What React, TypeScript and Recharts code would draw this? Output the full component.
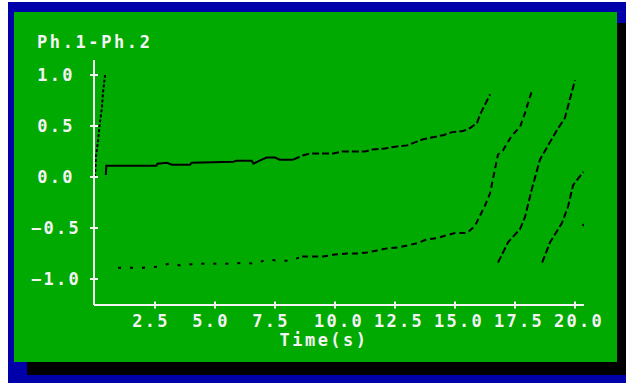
import { LineChart, Line, XAxis, YAxis } from "recharts";

type Pt = { t: number; v: number };

const xTicks = [2.5, 5, 7.5, 10, 12.5, 15, 17.5, 20];
const yTicks = [-1, -0.5, 0, 0.5, 1];

// first sweep of the phase difference right after t = 0
const startRise: Pt[] = [
  { t: 0, v: 0 }, { t: 0.04, v: 0.2 }, { t: 0.13, v: 0.36 }, { t: 0.2, v: 0.53 },
  { t: 0.29, v: 0.68 }, { t: 0.33, v: 0.82 }, { t: 0.42, v: 1.0 },
];

// upper branch, continuous part
const upperEarly: Pt[] = [
  { t: 0.45, v: 0.02 }, { t: 0.47, v: 0.11 }, { t: 2.56, v: 0.11 }, { t: 2.6, v: 0.13 },
  { t: 3.0, v: 0.14 }, { t: 3.2, v: 0.12 }, { t: 3.96, v: 0.12 }, { t: 4.03, v: 0.14 },
  { t: 5.76, v: 0.15 }, { t: 5.9, v: 0.16 }, { t: 6.53, v: 0.16 }, { t: 6.6, v: 0.13 },
  { t: 6.95, v: 0.17 }, { t: 7.15, v: 0.19 }, { t: 7.5, v: 0.19 }, { t: 7.7, v: 0.17 },
  { t: 8.26, v: 0.17 },
];

// upper branch, sampled part up to the first wrap
const upperLate: Pt[] = [
  { t: 8.26, v: 0.17 }, { t: 8.63, v: 0.21 }, { t: 8.96, v: 0.23 }, { t: 9.92, v: 0.23 },
  { t: 10.29, v: 0.25 }, { t: 11.25, v: 0.25 }, { t: 11.58, v: 0.27 }, { t: 12.08, v: 0.28 },
  { t: 12.58, v: 0.3 }, { t: 13.0, v: 0.31 }, { t: 13.33, v: 0.34 }, { t: 13.67, v: 0.37 },
  { t: 14.08, v: 0.39 }, { t: 14.5, v: 0.41 }, { t: 14.88, v: 0.44 }, { t: 15.33, v: 0.45 },
  { t: 15.63, v: 0.48 }, { t: 15.92, v: 0.53 }, { t: 16.04, v: 0.61 }, { t: 16.46, v: 0.81 },
];

// lower branch, sparse dots
const lowerEarly: Pt[] = [
  { t: 0.96, v: -0.89 }, { t: 1.54, v: -0.89 }, { t: 2.0, v: -0.89 }, { t: 2.58, v: -0.88 },
  { t: 3.08, v: -0.85 }, { t: 3.63, v: -0.87 }, { t: 4.13, v: -0.85 }, { t: 4.67, v: -0.85 },
  { t: 5.13, v: -0.85 }, { t: 5.67, v: -0.85 }, { t: 6.17, v: -0.84 }, { t: 6.67, v: -0.85 },
  { t: 7.15, v: -0.81 }, { t: 7.64, v: -0.82 }, { t: 8.13, v: -0.82 }, { t: 8.63, v: -0.78 },
];

// lower branch, dashed, climbing through zero after 16 s
const lowerLate: Pt[] = [
  { t: 8.63, v: -0.78 }, { t: 9.5, v: -0.78 }, { t: 10.0, v: -0.76 }, { t: 10.5, v: -0.75 },
  { t: 10.92, v: -0.75 }, { t: 11.33, v: -0.74 }, { t: 11.75, v: -0.72 }, { t: 12.17, v: -0.7 },
  { t: 12.63, v: -0.69 }, { t: 13.04, v: -0.67 }, { t: 13.42, v: -0.65 }, { t: 13.83, v: -0.61 },
  { t: 14.25, v: -0.6 }, { t: 14.67, v: -0.57 }, { t: 15.0, v: -0.55 }, { t: 15.5, v: -0.55 },
  { t: 15.83, v: -0.48 }, { t: 16.25, v: -0.28 }, { t: 16.46, v: -0.16 }, { t: 16.79, v: 0.22 },
  { t: 17.0, v: 0.26 }, { t: 17.17, v: 0.33 }, { t: 17.38, v: 0.41 }, { t: 17.71, v: 0.49 },
  { t: 17.92, v: 0.63 }, { t: 18.21, v: 0.85 },
];

// wrapped continuations
const wrapC: Pt[] = [
  { t: 16.79, v: -0.84 }, { t: 17.21, v: -0.64 }, { t: 17.71, v: -0.51 }, { t: 17.92, v: -0.39 },
  { t: 18.21, v: -0.11 }, { t: 18.54, v: 0.17 }, { t: 18.83, v: 0.29 }, { t: 19.25, v: 0.46 },
  { t: 19.58, v: 0.58 }, { t: 19.67, v: 0.66 }, { t: 20.0, v: 0.95 },
];

const wrapD: Pt[] = [
  { t: 18.63, v: -0.84 }, { t: 18.96, v: -0.64 }, { t: 19.46, v: -0.45 }, { t: 19.71, v: -0.29 },
  { t: 19.92, v: -0.08 }, { t: 20.35, v: 0.05 },
];

const stray: Pt[] = [{ t: 20.35, v: -0.47 }];

const BLUE = "#0000aa";
const GREEN = "#00aa00";
const INK = "#f4f4f4";
const FONT = "'DejaVu Sans Mono', monospace";

const textStyle = {
  fill: INK,
  fontFamily: FONT,
  fontWeight: 700,
  fontSize: 17,
};

function YTick({ x, y, payload }: any) {
  const label = payload.value.toFixed(1).replace("-", "\u2212");
  return (
    <g>
      <line x1={x - 4} x2={x + 4} y1={y} y2={y} stroke={INK} strokeWidth={2} />
      <text x={x - 38} y={y + 6} textAnchor="middle" letterSpacing={2.3} {...textStyle}>
        {label}
      </text>
    </g>
  );
}

function XTick({ x, y, payload }: any) {
  const label = payload.value.toFixed(1);
  const shift = label.length > 3 ? 4 : -4;
  return (
    <g>
      <line x1={x} x2={x} y1={y - 3.5} y2={y + 3.5} stroke={INK} strokeWidth={2} />
      <text x={x + shift} y={y + 22} textAnchor="middle" letterSpacing={2.3} {...textStyle}>
        {label}
      </text>
    </g>
  );
}

function TimeLabel({ viewBox }: any) {
  const { x, y, width } = viewBox;
  return (
    <text x={x + width / 2 - 15} y={y + 41} textAnchor="middle" letterSpacing={2.5} {...textStyle}>
      Time(s)
    </text>
  );
}

function PhaseLabel({ viewBox }: any) {
  const { x, y } = viewBox;
  return (
    <text x={x + 23} y={y - 12} letterSpacing={2.6} {...textStyle}>
      Ph.1-Ph.2
    </text>
  );
}

export default function App() {
  const base = {
    type: "linear" as const,
    dataKey: "v",
    stroke: "#000",
    strokeWidth: 2,
    dot: false,
    isAnimationActive: false,
  };

  return (
    <div
      style={{
        position: "absolute",
        left: 8,
        top: 2,
        width: 618,
        height: 381,
        background: BLUE,
        overflow: "hidden",
      }}
    >
      {/* drop shadow */}
      <div
        style={{ position: "absolute", left: 19, top: 21, width: 599, height: 352, background: "#000" }}
      />
      <div
        style={{ position: "absolute", left: 6, top: 10, width: 603, height: 350, background: GREEN }}
      >
        <LineChart width={603} height={350} margin={{ top: 48, right: 33, left: 0, bottom: 0 }}>
          <XAxis
            type="number"
            dataKey="t"
            domain={[-0.042, 20.375]}
            allowDataOverflow
            ticks={xTicks}
            interval={0}
            height={57}
            axisLine={{ stroke: INK, strokeWidth: 2 }}
            tickLine={false}
            tickSize={0}
            tickMargin={0}
            tick={<XTick />}
            label={<TimeLabel />}
          />
          <YAxis
            type="number"
            domain={[-1.255, 1.147]}
            allowDataOverflow
            ticks={yTicks}
            interval={0}
            width={80}
            axisLine={{ stroke: INK, strokeWidth: 2 }}
            tickLine={false}
            tickSize={0}
            tickMargin={0}
            tick={<YTick />}
            label={<PhaseLabel />}
          />
          <Line {...base} data={startRise} strokeDasharray="3 2" />
          <Line {...base} data={upperEarly} />
          <Line {...base} data={upperLate} strokeDasharray="7 3" />
          <Line {...base} data={lowerEarly} strokeDasharray="3 9" />
          <Line {...base} data={lowerLate} strokeDasharray="6 4" />
          <Line {...base} data={wrapC} strokeDasharray="7 3" />
          <Line {...base} data={wrapD} strokeDasharray="7 3" />
          <Line {...base} data={stray} dot={{ r: 1.3, fill: "#000", stroke: "none" }} />
        </LineChart>
      </div>
    </div>
  );
}
